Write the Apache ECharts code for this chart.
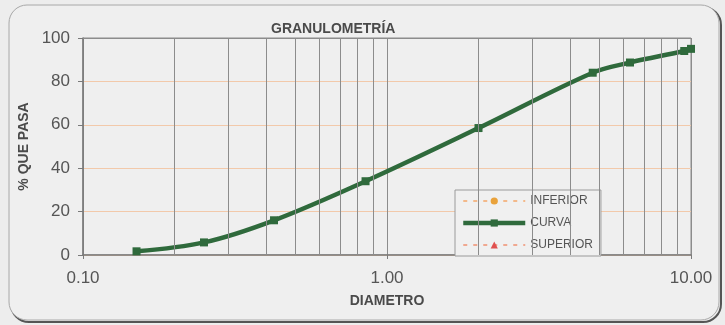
<!DOCTYPE html>
<html>
<head>
<meta charset="utf-8">
<script src="https://cdn.jsdelivr.net/npm/echarts@6/dist/echarts.min.js"></script>
<style>
  html, body { margin: 0; padding: 0; background: #ededed; }
  #chart { width: 725px; height: 325px; }
</style>
</head>
<body>
<div id="chart"></div>
<script>
// Sieve analysis: particle diameter (mm) vs. percent passing
const diametro = [0.15, 0.25, 0.425, 0.85, 2.0, 4.75, 6.3, 9.5, 10];
const curva = [1.7, 5.8, 16, 34, 58.5, 84, 88.7, 94, 95];
const inferior = [];
const superior = [];
// intermediate log-decade gridlines
const minorGrid = [0.2, 0.3, 0.4, 0.5, 0.6, 0.7, 0.8, 0.9, 2, 3, 4, 5, 6, 7, 8, 9];
const legendNames = ['INFERIOR', 'CURVA', 'SUPERIOR'];

const FONT = '"Liberation Sans", Arial, sans-serif';
const chart = echarts.init(document.getElementById('chart'), null, { renderer: 'canvas' });

chart.setOption({
  backgroundColor: '#ededed',
  animation: false,
  graphic: [
    { type: 'rect', z: -10, shape: { x: 11, y: 7, width: 710, height: 315, r: 18 },
      style: { fill: 'none', stroke: '#555', lineWidth: 2 } },
    { type: 'rect', z: -9, shape: { x: 9, y: 5, width: 710, height: 315, r: 18 },
      style: { fill: '#efefef', stroke: '#a8a8a8', lineWidth: 1 } }
  ],
  title: {
    text: 'GRANULOMETRÍA',
    left: 266, top: 17,
    textStyle: { fontFamily: FONT, fontSize: 14, fontWeight: 'bold', color: '#4a4a4a' }
  },
  legend: {
    data: [
      { name: legendNames[0] },
      { name: legendNames[1], lineStyle: { width: 4.5 } },
      { name: legendNames[2] }
    ],
    orient: 'vertical',
    left: 455, top: 190,
    width: 140,
    padding: [5, 8, 5, 6],
    itemWidth: 62, itemHeight: 9, itemGap: 10,
    backgroundColor: '#f0f0f0',
    borderColor: '#9a9a9a', borderWidth: 1, borderRadius: 0,
    textStyle: { fontFamily: FONT, fontSize: 12, color: '#555' }
  },
  grid: {
    left: 83, right: 34, top: 38, bottom: 70,
    show: true, borderColor: '#8a8a8a', borderWidth: 1, backgroundColor: 'transparent'
  },
  xAxis: {
    type: 'log', logBase: 10, min: 0.1, max: 10,
    name: 'DIAMETRO', nameLocation: 'middle', nameGap: 39,
    nameTextStyle: { fontFamily: FONT, fontSize: 14, fontWeight: 'bold', color: '#4a4a4a' },
    axisLine: { lineStyle: { color: '#7a7a7a', width: 1.5 } },
    axisTick: { show: true, length: 4, lineStyle: { color: '#7a7a7a' } },
    axisLabel: { fontFamily: FONT, fontSize: 17, color: '#555', margin: 15,
      formatter: v => Number(v).toFixed(2) },
    splitLine: { show: true, lineStyle: { color: '#8c8c8c', width: 1 } },
    minorTick: { show: false }
  },
  yAxis: {
    type: 'value', min: 0, max: 100, interval: 20,
    name: '% QUE PASA', nameLocation: 'middle', nameGap: 46,
    nameTextStyle: { fontFamily: FONT, fontSize: 14, fontWeight: 'bold', color: '#4a4a4a' },
    axisLine: { show: true, lineStyle: { color: '#7a7a7a', width: 1.5 } },
    axisTick: { show: true, length: 5, inside: false, lineStyle: { color: '#7a7a7a' } },
    axisLabel: { fontFamily: FONT, fontSize: 17, color: '#555', margin: 13 },
    splitLine: { show: true, lineStyle: { color: '#f2c9aa', width: 1 } }
  },
  series: [
    {
      name: 'gridlines', type: 'line', data: [], z: 1, silent: true,
      markLine: {
        silent: true, symbol: ['none', 'none'], animation: false,
        label: { show: false },
        lineStyle: { color: '#8c8c8c', width: 1, type: 'solid' },
        emphasis: { disabled: true },
        data: minorGrid.map(v => ({ xAxis: v })).concat([{ yAxis: 100 }])
      }
    },
    {
      name: legendNames[0], type: 'line', z: 2,
      data: inferior,
      symbol: 'circle', symbolSize: 6,
      itemStyle: { color: '#e9a23b' },
      lineStyle: { color: '#f3b98a', width: 2, type: [4, 6] }
    },
    {
      name: legendNames[1], type: 'line', z: 3,
      data: diametro.map((d, i) => [d, curva[i]]),
      smooth: 0.35,
      symbol: 'rect', symbolSize: 8,
      itemStyle: { color: '#2f6a3c' },
      lineStyle: { color: '#2f6a3c', width: 4.5 }
    },
    {
      name: legendNames[2], type: 'line', z: 2,
      data: superior,
      symbol: 'triangle', symbolSize: 6,
      itemStyle: { color: '#e0504f' },
      lineStyle: { color: '#f0a890', width: 2, type: [4, 6] }
    }
  ]
});
</script>
</body>
</html>
